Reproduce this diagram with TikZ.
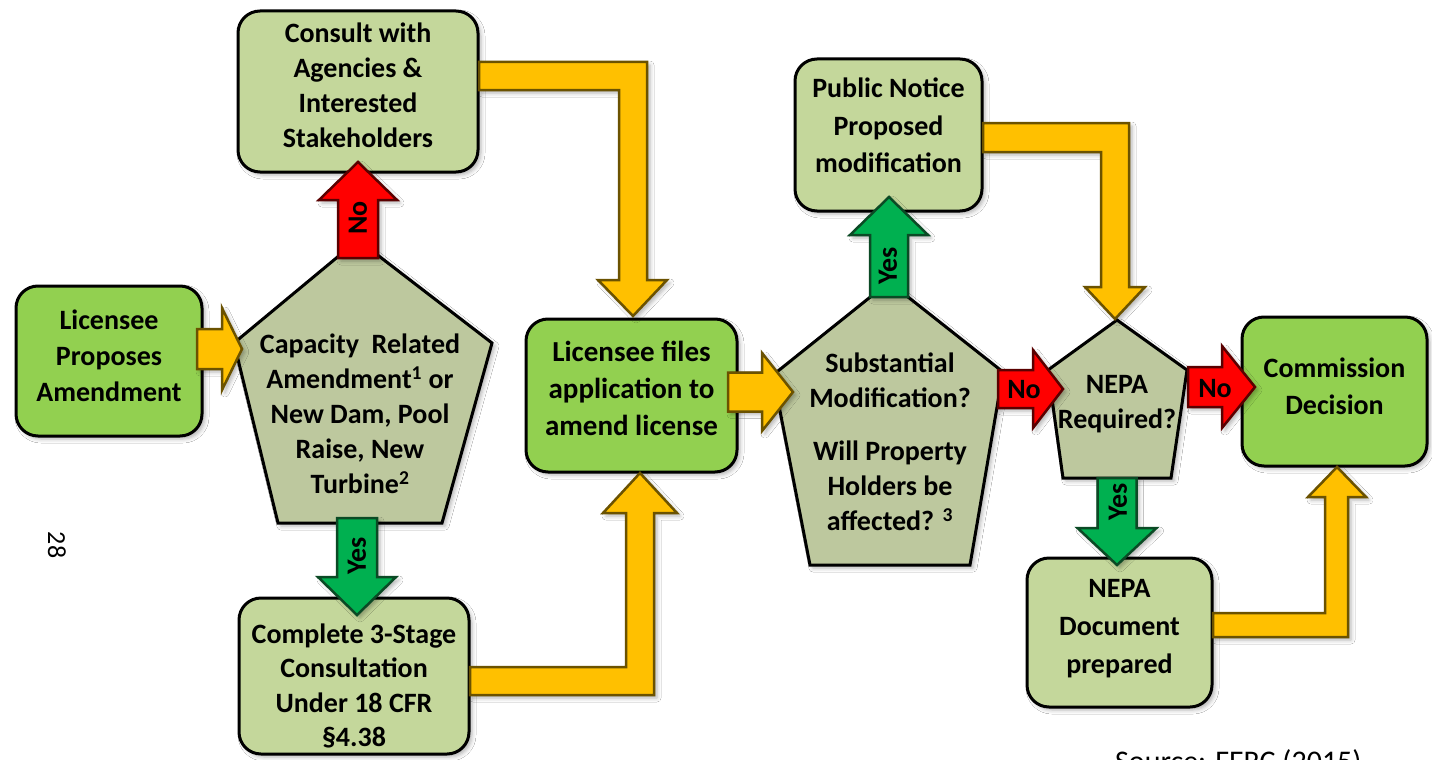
\documentclass[tikz,border=0pt]{standalone}
\usepackage{fontspec}
\setmainfont{Carlito}
\usetikzlibrary{calc,shadows.blur}
\definecolor{bgreen}{HTML}{92D050}
\definecolor{lgreen}{HTML}{C4D79B}
\definecolor{pentfill}{HTML}{BDC89E}
\definecolor{ayellow}{HTML}{FFC000}
\definecolor{ayellowd}{HTML}{6B5200}
\definecolor{ared}{HTML}{FF0000}
\definecolor{aredd}{HTML}{5A0000}
\definecolor{agreen}{HTML}{00B050}
\definecolor{agreend}{HTML}{0B4A25}
\tikzset{
  shd/.style={blur shadow={shadow xshift=3pt, shadow yshift=-3pt, shadow blur radius=4pt, shadow opacity=30}},
  box/.style={draw=black, line width=3pt, rounded corners=22pt, inner sep=0pt, shd},
  brightbox/.style={box, fill=bgreen},
  lightbox/.style={box, fill=lgreen},
  btext/.style={align=center, font=\fontsize{28}{36}\selectfont\bfseries, inner sep=0pt},
  penta/.style={draw=black, line width=3pt, fill=pentfill, line join=miter, shd},
  ptext/.style={align=center, font=\fontsize{28}{35}\selectfont\bfseries, inner sep=0pt},
  yarrow/.style={fill=ayellow, draw=ayellowd, line width=2.5pt, line join=miter, shd},
  rarrow/.style={fill=ared, draw=aredd, line width=2.5pt, line join=miter, shd},
  garrow/.style={fill=agreen, draw=agreend, line width=2.5pt, line join=miter, shd},
  alabel/.style={font=\fontsize{28}{30}\selectfont\bfseries, inner sep=0pt},
}
% horizontal block arrow: style, from, to, half shaft, half head, head length
\newcommand\harr[6]{\path[#1] let \p1=(#2), \p2=(#3) in
  ({\x1},{\y1+#4}) -- ({\x2-#6},{\y1+#4}) -- ({\x2-#6},{\y1+#5}) -- ({\x2},{\y1})
  -- ({\x2-#6},{\y1-#5}) -- ({\x2-#6},{\y1-#4}) -- ({\x1},{\y1-#4}) -- cycle;}
% vertical block arrow: style, from, to, half shaft, half head, head length, dir (1 up, -1 down)
\newcommand\varr[7]{\path[#1] let \p1=(#2), \p2=(#3) in
  ({\x1-#4},{\y1}) -- ({\x1-#4},{\y2-(#7)*#6}) -- ({\x1-#5},{\y2-(#7)*#6}) -- ({\x1},{\y2})
  -- ({\x1+#5},{\y2-(#7)*#6}) -- ({\x1+#4},{\y2-(#7)*#6}) -- ({\x1+#4},{\y1}) -- cycle;}
\begin{document}
\begin{tikzpicture}[x=1pt,y=-1pt]
\useasboundingbox (0,0) rectangle (1432,760);
\fill[white] (0,0) rectangle (1432,760);

% boxes
\node[brightbox, minimum width=186pt, minimum height=150pt] (lpa) at (109,361) {};
\node[btext] (lpaT) at ($(lpa.center)+(0,-5.5)$) {Licensee\\Proposes\\Amendment};
\node[lightbox, minimum width=240pt, minimum height=161pt] (cons) at (358,91.5) {};
\node[btext, font=\fontsize{28}{35}\selectfont\bfseries] (consT) at ($(cons.center)+(0,-6)$) {Consult with\\Agencies \&\\Interested\\Stakeholders};
\node[brightbox, minimum width=211pt, minimum height=153pt] (lfa) at (631.5,395.5) {};
\node[btext, font=\fontsize{29}{37}\selectfont\bfseries] (lfaT) at ($(lfa.center)+(0,-7)$) {Licensee files\\application to\\amend license};
\node[lightbox, minimum width=230pt, minimum height=156pt] (c3s) at (354,676) {};
\node[btext, font=\fontsize{28}{34.5}\selectfont\bfseries] (c3sT) at ($(c3s.center)+(0,10)$) {Complete 3-Stage\\Consultation\\Under 18 CFR\\\S4.38};
\node[lightbox, minimum width=187pt, minimum height=152pt] (pn) at (888.5,135) {};
\node[btext, font=\fontsize{28}{37.5}\selectfont\bfseries] (pnT) at ($(pn.center)+(0,-9.5)$) {Public Notice\\Proposed\\modification};
\node[brightbox, minimum width=185pt, minimum height=149pt] (cd) at (1334.5,391.5) {};
\node[btext, font=\fontsize{28}{37}\selectfont\bfseries] (cdT) at ($(cd.center)+(0,-5.5)$) {Commission\\Decision};
\node[lightbox, minimum width=185pt, minimum height=149pt] (nd) at (1119.5,632.5) {};
\node[btext, font=\fontsize{28}{38}\selectfont\bfseries] (ndT) at ($(nd.center)+(0,-4)$) {NEPA\\Document\\prepared};

% pentagons
\path[penta] (358,240) -- (492,343) -- (442,523) -- (278,523) -- (234,343) -- cycle;
\node[ptext] (q1) at (360,414) {Capacity~ Related\\Amendment\textsuperscript{1} or\\New Dam, Pool\\Raise, New\\Turbine\textsuperscript{2}};
\path[penta] (889,282) -- (1003,372) -- (970,565) -- (810,565) -- (773,375) -- cycle;
\node[ptext] (q2) at (890,442) {Substantial\\Modification?\\[18pt]Will Property\\Holders be\\affected? \textsuperscript{3}};
\path[penta] (1117,320) -- (1187,370) -- (1171,478) -- (1063,478) -- (1048,370) -- cycle;
\node[ptext] (q3) at (1117,404) {NEPA\\Required?};

% arrow end points
\coordinate (a1s) at (197,349);  \coordinate (a1t) at (242,349);
\coordinate (a2s) at (358,258);  \coordinate (a2t) at (358,162);
\coordinate (a3s) at (357,518);  \coordinate (a3t) at (357,615);
\coordinate (a4s) at (728,392);  \coordinate (a4t) at (793,392);
\coordinate (a5s) at (889,297);  \coordinate (a5t) at (889,197);
\coordinate (a6s) at (998,389);  \coordinate (a6t) at (1063,389);
\coordinate (a7s) at (1188,387); \coordinate (a7t) at (1255,387);
\coordinate (a8s) at (1117,478); \coordinate (a8t) at (1117,565);

% straight block arrows
\harr{yarrow}{a1s}{a1t}{20pt}{41pt}{20pt}
\varr{rarrow}{a2s}{a2t}{20pt}{39pt}{38pt}{1}
\varr{garrow}{a3s}{a3t}{20pt}{39pt}{38pt}{-1}
\harr{yarrow}{a4s}{a4t}{19.5pt}{39pt}{31pt}
\varr{garrow}{a5s}{a5t}{19pt}{39pt}{38pt}{1}
\harr{rarrow}{a6s}{a6t}{19pt}{39pt}{30pt}
\harr{rarrow}{a7s}{a7t}{20pt}{41pt}{33pt}
\varr{garrow}{a8s}{a8t}{19.5pt}{39.5pt}{37pt}{-1}

% elbow block arrows
\path[yarrow] (479,62) -- (647,62) -- (647,280) -- (667,280) -- (633,316) -- (598,280) -- (619,280) -- (619,90) -- (479,90) -- cycle;
\path[yarrow] (470,695) -- (654,695) -- (654,513) -- (677,513) -- (640,473) -- (603,513) -- (626,513) -- (626,667) -- (470,667) -- cycle;
\path[yarrow] (983,123) -- (1129,123) -- (1129,287) -- (1145,287) -- (1115,319) -- (1085,287) -- (1101,287) -- (1101,152) -- (983,152) -- cycle;
\path[yarrow] (1213,637) -- (1348,637) -- (1348,497) -- (1366,497) -- (1337,467) -- (1308,497) -- (1325,497) -- (1325,613) -- (1213,613) -- cycle;

% arrow labels
\node[alabel, rotate=90] (l2) at (358,218) {No};
\node[alabel, rotate=90] (l3) at (357,556) {Yes};
\node[alabel, rotate=90] (l5) at (888,266) {Yes};
\node[alabel] (l6) at (1024,390) {No};
\node[alabel] (l7) at (1215,389) {No};
\node[alabel, rotate=90] (l8) at (1118,502) {Yes};

% extras
\node[rotate=-90, font=\fontsize{26}{30}\selectfont, inner sep=0pt] (pg) at (57,545) {28};
\node[anchor=base west, font=\fontsize{30}{36}\selectfont, inner sep=0pt] (src) at (1115,771) {Source: FERC (2015)};
\end{tikzpicture}
\end{document}
